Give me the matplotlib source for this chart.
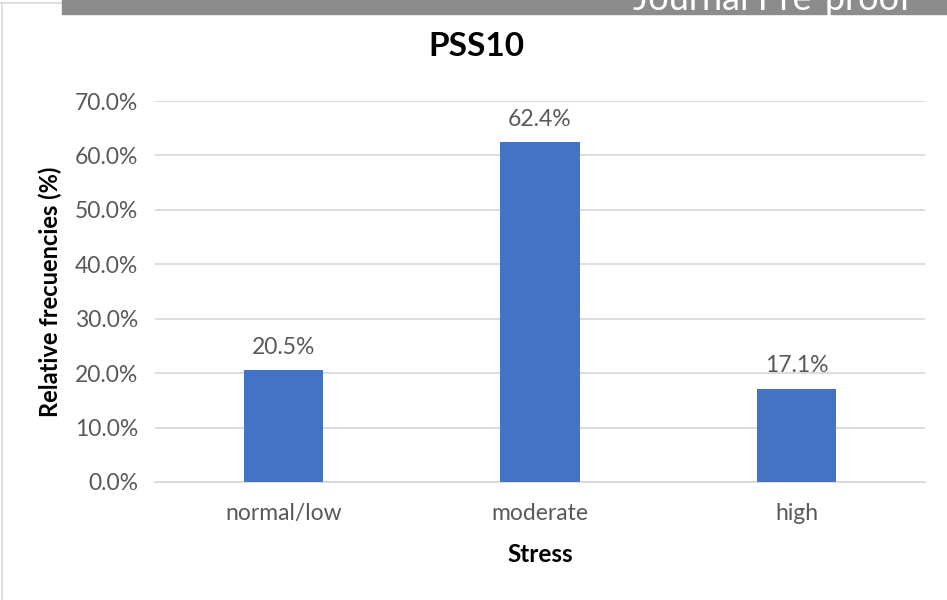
import matplotlib.pyplot as plt
from matplotlib.patches import Rectangle
from matplotlib.lines import Line2D

# Data
categories = ['normal/low', 'moderate', 'high']
values = [20.5, 62.4, 17.1]
yticks = [0, 10, 20, 30, 40, 50, 60, 70]

plt.rcParams['font.family'] = ['Lato', 'DejaVu Sans']

fig = plt.figure(figsize=(9.47, 6.0), dpi=100)
ax = fig.add_axes([155 / 947, 1 - 482 / 600, (925 - 155) / 947, (482 - 101) / 600])

x = range(len(categories))
ax.bar(x, values, width=0.31, color='#4472C4', zorder=3)

for xi, v in zip(x, values):
    ax.annotate(f'{v:.1f}%', (xi, v), xytext=(0, 9), textcoords='offset points',
                ha='center', va='bottom', fontsize=16.5, color='#595959')

ax.set_xlim(-0.5, 2.5)
ax.set_ylim(0, 70)
ax.set_yticks(yticks)
ax.set_yticklabels([f'{t:.1f}%' for t in yticks])
ax.set_xticks(list(x))
ax.set_xticklabels(categories)
ax.tick_params(axis='both', length=0, labelsize=16.5, labelcolor='#595959')
ax.tick_params(axis='y', pad=12)
ax.tick_params(axis='x', pad=15)
ax.grid(axis='y', color='#d9d9d9', linewidth=1.3, zorder=0)
for s in ['top', 'right', 'left']:
    ax.spines[s].set_visible(False)
ax.spines['bottom'].set_color('#d9d9d9')
ax.spines['bottom'].set_linewidth(1.3)

ax.set_xlabel('Stress', fontsize=17.5, fontweight='bold', labelpad=14)
ax.set_ylabel('Relative frecuencies (%)', fontsize=17, fontweight='bold', labelpad=9)
fig.text(476 / 947, 1 - 46 / 600, 'PSS10', ha='center', va='center',
         fontsize=24, fontweight='bold')

# page decorations: grey banner with cut-off text and frame lines
fig.patches.append(Rectangle((62 / 947, 1 - 14 / 600), 1, 14 / 600,
                             transform=fig.transFigure, color='#8c8c8c', zorder=5))
fig.text(912 / 947, 1 - 10 / 600, 'Journal Pre-proof', ha='right', va='baseline',
         fontsize=26, color='white', zorder=6)
fig.lines.append(Line2D([2 / 947, 2 / 947], [0, 1 - 3 / 600], transform=fig.transFigure,
                        color='#d9d9d9', linewidth=1.2))
fig.lines.append(Line2D([0, 62 / 947], [1 - 3 / 600, 1 - 3 / 600], transform=fig.transFigure,
                        color='#d9d9d9', linewidth=1.2))

fig.savefig('out.png', dpi=100)
